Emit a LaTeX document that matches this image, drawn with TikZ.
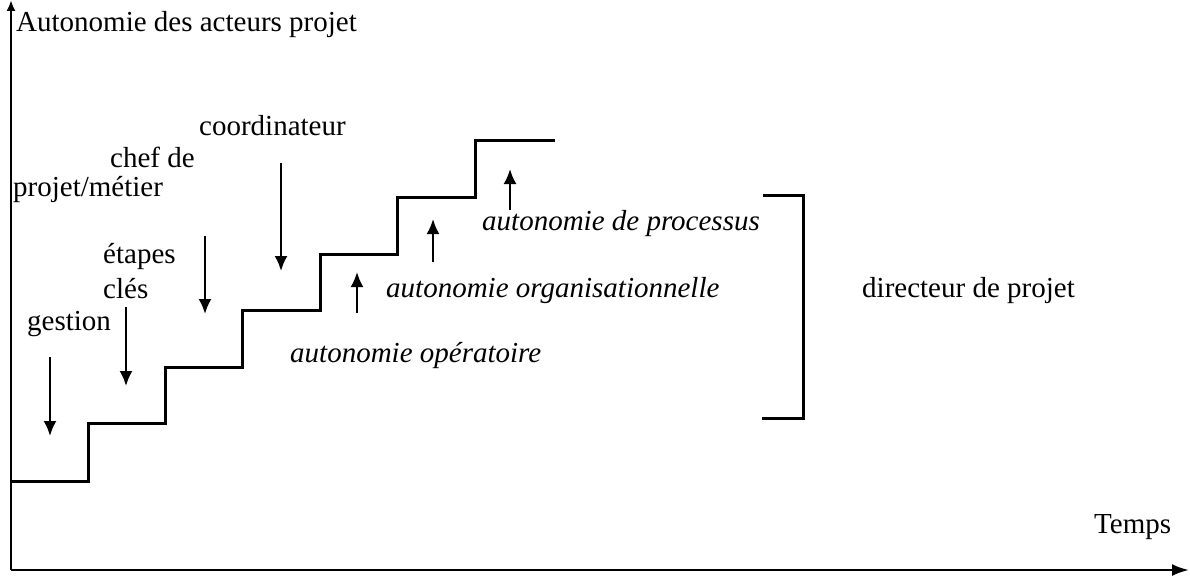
\documentclass[tikz,border=0pt]{standalone}
\usepackage{fontspec}
\setmainfont{Liberation Serif}
\usetikzlibrary{arrows.meta}

\begin{document}
\begin{tikzpicture}[x=1pt,y=-1pt,
		lbl/.style={anchor=base west,inner sep=0pt,font=\fontsize{29}{34}\selectfont},
		ilbl/.style={lbl,font=\fontsize{29}{34}\selectfont\itshape},
		arr/.style={line width=2.2pt,-{Latex[length=15pt,width=13pt]}}]
		\useasboundingbox (0,0) rectangle (1190,578);
		\coordinate (Origin)   at (11,570);
		\coordinate (XAxisMax) at (1189,570);
		\coordinate (YAxisMax) at (11,0);
		\draw [line width=2.5pt,-{Latex[length=17pt,width=12pt]}] (Origin) -- (XAxisMax);% Draw x axis
		\draw [line width=2.5pt,-{Latex[length=11pt,width=9pt]}] (Origin) -- (YAxisMax);% Draw y axis

		\node[lbl] (Autonomie) at (16,32) {Autonomie des acteurs projet};
		\node[lbl] (Temps) at (1094,533) {Temps};

		% the staircase
		\draw [line width=3pt] (11,481) -- (88,481) -- (88,423) -- (165,423) -- (165,367)
			-- (242,367) -- (242,310) -- (320,310) -- (320,254) -- (397,254)
			-- (397,197) -- (475,197) -- (475,140) -- (555,140);

		% roles above the steps
		\node[lbl] (Gestion) at (27,330) {gestion};
		\node[lbl] (Etapes) at (103,263) {étapes};
		\node[lbl] (Cles) at (103,298) {clés};
		\node[lbl] (ChefDe) at (110,167) {chef de};
		\node[lbl] (ProjetMetier) at (13,196) {projet/métier};
		\node[lbl] (Coordinateur) at (199,135) {coordinateur};

		\coordinate (GestionTop)  at (50,357);
		\coordinate (GestionBot)  at (50,436);
		\coordinate (EtapesTop)   at (126,307);
		\coordinate (EtapesBot)   at (126,386);
		\coordinate (ChefTop)     at (205,236);
		\coordinate (ChefBot)     at (205,314);
		\coordinate (CoordTop)    at (281,163);
		\coordinate (CoordBot)    at (281,271);
		\draw [arr] (GestionTop) -- (GestionBot);
		\draw [arr] (EtapesTop) -- (EtapesBot);
		\draw [arr] (ChefTop) -- (ChefBot);
		\draw [arr] (CoordTop) -- (CoordBot);

		% kinds of autonomy under the steps
		\node[ilbl] (Operatoire) at (290,362) {autonomie opératoire};
		\node[ilbl] (Organisation) at (386,297) {autonomie organisationnelle};
		\node[ilbl] (Processus) at (482,230) {autonomie de processus};

		\coordinate (OpBot)   at (357,313);
		\coordinate (OpTop)   at (357,272);
		\coordinate (OrgBot)  at (433,262);
		\coordinate (OrgTop)  at (433,219);
		\coordinate (ProcBot) at (510,210);
		\coordinate (ProcTop) at (510,169);
		\draw [arr] (OpBot) -- (OpTop);
		\draw [arr] (OrgBot) -- (OrgTop);
		\draw [arr] (ProcBot) -- (ProcTop);

		% bracket and director
		\coordinate (BracketTop) at (763,195);
		\coordinate (BracketBot) at (762,418);
		\draw [line width=3pt] (BracketTop) -| (803,418) -- (BracketBot);
		\node[lbl] (Directeur) at (862,297) {directeur de projet};
	  \end{tikzpicture}
\end{document}
